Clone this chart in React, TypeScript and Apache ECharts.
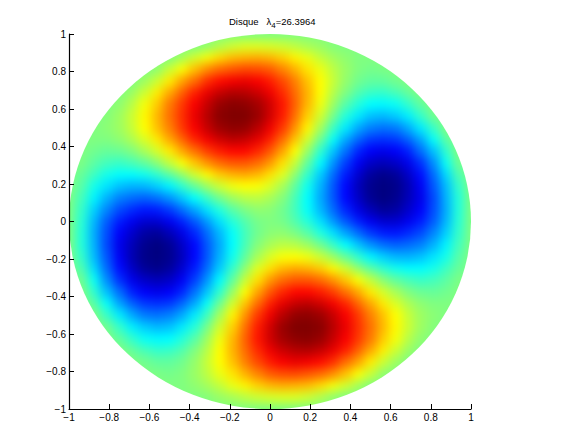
import React, { useEffect, useRef } from "react";
import * as echarts from "echarts";

// Surface values, in percent of the colour range, top row first.
// Each row is centred on x = 0; grid step is 1/16 of an axis unit.
const rows: number[][] = [
  [0,0,0,0,0,0,0,0,0],
  [0,0,4,10,15,18,18,17,15,12,8,5,1,0,0],
  [0,0,7,16,23,32,38,40,41,39,34,27,21,13,7,3,0,0,0],
  [0,3,14,24,37,47,54,58,61,60,57,49,40,30,21,12,5,0,-2,-1,0],
  [0,6,15,29,43,54,66,73,77,79,76,70,61,50,37,25,14,4,-3,-6,-6,-3,0],
  [0,5,15,28,42,56,69,79,86,90,89,85,78,67,54,40,25,11,0,-9,-14,-15,-11,-5,0],
  [0,3,11,23,35,51,64,76,86,95,98,97,93,84,71,56,39,22,6,-8,-18,-25,-26,-23,-15,-6,0],
  [0,1,6,15,26,39,53,66,79,89,98,100,100,95,84,70,53,34,16,-2,-18,-29,-37,-39,-35,-28,-15,-3,0],
  [0,2,6,14,25,37,50,64,76,86,94,97,96,89,78,64,46,27,7,-13,-29,-42,-50,-53,-51,-42,-29,-14,0],
  [0,0,0,3,9,18,29,42,55,68,77,84,88,86,80,69,54,36,16,-4,-24,-42,-55,-64,-66,-64,-56,-43,-24,-7,0],
  [0,-3,-5,-4,0,8,17,29,42,53,63,70,74,74,68,58,43,25,5,-16,-36,-53,-68,-76,-79,-76,-69,-54,-37,-16,0],
  [-1,-7,-12,-14,-11,-6,2,13,24,36,46,54,58,58,54,45,31,14,-6,-26,-46,-63,-77,-86,-89,-86,-79,-66,-47,-23,-4],
  [0,-5,-13,-21,-25,-25,-22,-16,-7,4,16,26,35,40,42,39,31,19,3,-15,-35,-54,-70,-84,-94,-98,-95,-86,-73,-54,-32,-10,0],
  [0,-8,-21,-30,-37,-40,-39,-34,-27,-16,-5,6,15,22,25,24,18,8,-6,-22,-40,-58,-74,-88,-97,-100,-98,-90,-77,-58,-38,-15,0],
  [0,-12,-27,-40,-50,-54,-56,-53,-46,-36,-25,-14,-3,6,11,12,8,1,-11,-25,-42,-58,-74,-86,-96,-100,-97,-89,-79,-61,-40,-18,0],
  [0,-15,-34,-49,-61,-67,-71,-70,-64,-54,-43,-31,-19,-8,-1,3,2,-3,-12,-24,-39,-54,-68,-80,-89,-95,-93,-85,-76,-60,-41,-18,0],
  [0,-17,-39,-57,-70,-78,-84,-84,-78,-69,-58,-45,-31,-18,-9,-2,0,-2,-9,-18,-31,-45,-58,-69,-78,-84,-84,-78,-70,-57,-39,-17,0],
  [0,-18,-41,-60,-76,-85,-93,-95,-89,-80,-68,-54,-39,-24,-12,-3,2,3,-1,-8,-19,-31,-43,-54,-64,-70,-71,-67,-61,-49,-34,-15,0],
  [0,-18,-40,-61,-79,-89,-97,-100,-96,-86,-74,-58,-42,-25,-11,1,8,12,11,6,-3,-14,-25,-36,-46,-53,-56,-54,-50,-40,-27,-12,0],
  [0,-15,-38,-58,-77,-90,-98,-100,-97,-88,-74,-58,-40,-22,-6,8,18,24,25,22,15,6,-5,-16,-27,-34,-39,-40,-37,-30,-21,-8,0],
  [0,-10,-32,-54,-73,-86,-95,-98,-94,-84,-70,-54,-35,-15,3,19,31,39,42,40,35,26,16,4,-7,-16,-22,-25,-25,-21,-13,-5,0],
  [-4,-23,-47,-66,-79,-86,-89,-86,-77,-63,-46,-26,-6,14,31,45,54,58,58,54,46,36,24,13,2,-6,-11,-14,-12,-7,-1],
  [0,-16,-37,-54,-69,-76,-79,-76,-68,-53,-36,-16,5,25,43,58,68,74,74,70,63,53,42,29,17,8,0,-4,-5,-3,0],
  [0,-7,-24,-43,-56,-64,-66,-64,-55,-42,-24,-4,16,36,54,69,80,86,88,84,77,68,55,42,29,18,9,3,0,0,0],
  [0,-14,-29,-42,-51,-53,-50,-42,-29,-13,7,27,46,64,78,89,96,97,94,86,76,64,50,37,25,14,6,2,0],
  [0,-3,-15,-28,-35,-39,-37,-29,-18,-2,16,34,53,70,84,95,100,100,98,89,79,66,53,39,26,15,6,1,0],
  [0,-6,-15,-23,-26,-25,-18,-8,6,22,39,56,71,84,93,97,98,95,86,76,64,51,35,23,11,3,0],
  [0,-5,-11,-15,-14,-9,0,11,25,40,54,67,78,85,89,90,86,79,69,56,42,28,15,5,0],
  [0,-3,-6,-6,-3,4,14,25,37,50,61,70,76,79,77,73,66,54,43,29,15,6,0],
  [0,-1,-2,0,5,12,21,30,40,49,57,60,61,58,54,47,37,24,14,3,0],
  [0,0,0,3,7,13,21,27,34,39,41,40,38,32,23,16,7,0,0],
  [0,0,1,5,8,12,15,17,18,18,15,10,4,0,0],
  [0,0,0,0,0,0,0,0,0],
];

const STEPS = 16;
const jetColors = ["#000080", "#0000ff", "#0080ff", "#00ffff", "#80ff80", "#ffff00", "#ff8000", "#ff0000", "#800000"];
const axisRange = { min: -1, max: 1, interval: 0.2 };
const gridBox = { left: 69, right: 105, top: 34, bottom: 23 };

const cells: number[][] = [];
rows.forEach((row, r) => {
  const half = (row.length - 1) / 2;
  row.forEach((v, c) => {
    cells.push([(c - half) / STEPS, (STEPS - r) / STEPS, v]);
  });
});

const tickLabel = (v: number) => (v === 0 ? "0" : String(v).replace("-", "\u2212"));

const layer: React.CSSProperties = { position: "absolute", left: 0, top: 0, width: 576, height: 432 };

export default function App() {
  const surfaceRef = useRef<HTMLDivElement>(null);
  const axesRef = useRef<HTMLDivElement>(null);
  useEffect(() => {
    const surface = echarts.init(surfaceRef.current!, undefined, { renderer: "svg" });
    const axes = echarts.init(axesRef.current!, undefined, { renderer: "svg" });
    surface.setOption({
      animation: false,
      backgroundColor: "#80ff80",
      grid: gridBox,
      xAxis: { type: "value", ...axisRange, show: false },
      yAxis: { type: "value", ...axisRange, show: false },
      visualMap: {
        show: false,
        type: "continuous",
        min: -100,
        max: 100,
        dimension: 2,
        seriesIndex: 0,
        inRange: { color: jetColors },
      },
      series: [
        {
          type: "custom",
          coordinateSystem: "cartesian2d",
          silent: true,
          clip: false,
          data: cells,
          encode: { x: 0, y: 1 },
          renderItem: (_params: any, api: any) => {
            const h = 0.5 / STEPS;
            const x = api.value(0);
            const y = api.value(1);
            const a = api.coord([x - h, y + h]);
            const b = api.coord([x + h, y - h]);
            const x0 = Math.round(a[0]);
            const y0 = Math.round(a[1]);
            return {
              type: "rect",
              shape: { x: x0, y: y0, width: Math.round(b[0]) - x0, height: Math.round(b[1]) - y0 },
              style: { fill: api.visual("color") },
            };
          },
        },
      ],
    });
    const axisCommon = {
      type: "value" as const,
      ...axisRange,
      splitLine: { show: false },
      axisLine: { onZero: false, lineStyle: { color: "#000", width: 1.2 } },
      axisTick: { inside: true, length: 5, lineStyle: { color: "#000", width: 1 } },
      axisLabel: {
        color: "#000",
        fontFamily: "Liberation Sans",
        fontSize: 10,
        margin: 3,
        formatter: tickLabel,
        hideOverlap: false,
      },
    };
    axes.setOption({
      animation: false,
      title: {
        left: 224,
        top: 8,
        text: "{a|Disque   \u03bb}{s|4}{a|=26.3964}",
        textStyle: {
          rich: {
            a: { fontFamily: "Liberation Sans", fontSize: 9.5, fontWeight: "normal", color: "#000" },
            s: { fontFamily: "Liberation Sans", fontSize: 8, fontWeight: "normal", color: "#000", verticalAlign: "top", padding: [8, 0, 0, 0] },
          },
        },
      },
      grid: gridBox,
      xAxis: axisCommon,
      yAxis: axisCommon,
    });
    return () => {
      surface.dispose();
      axes.dispose();
    };
  }, []);
  return (
    <div style={{ position: "fixed", left: 0, top: 0, width: 576, height: 432, background: "#fff" }}>
      <div style={{ ...layer, clipPath: "ellipse(201px 187.5px at 270px 221.5px)" }}>
        <div ref={surfaceRef} style={{ ...layer, filter: "blur(5px)" }} />
      </div>
      <div ref={axesRef} style={layer} />
    </div>
  );
}
